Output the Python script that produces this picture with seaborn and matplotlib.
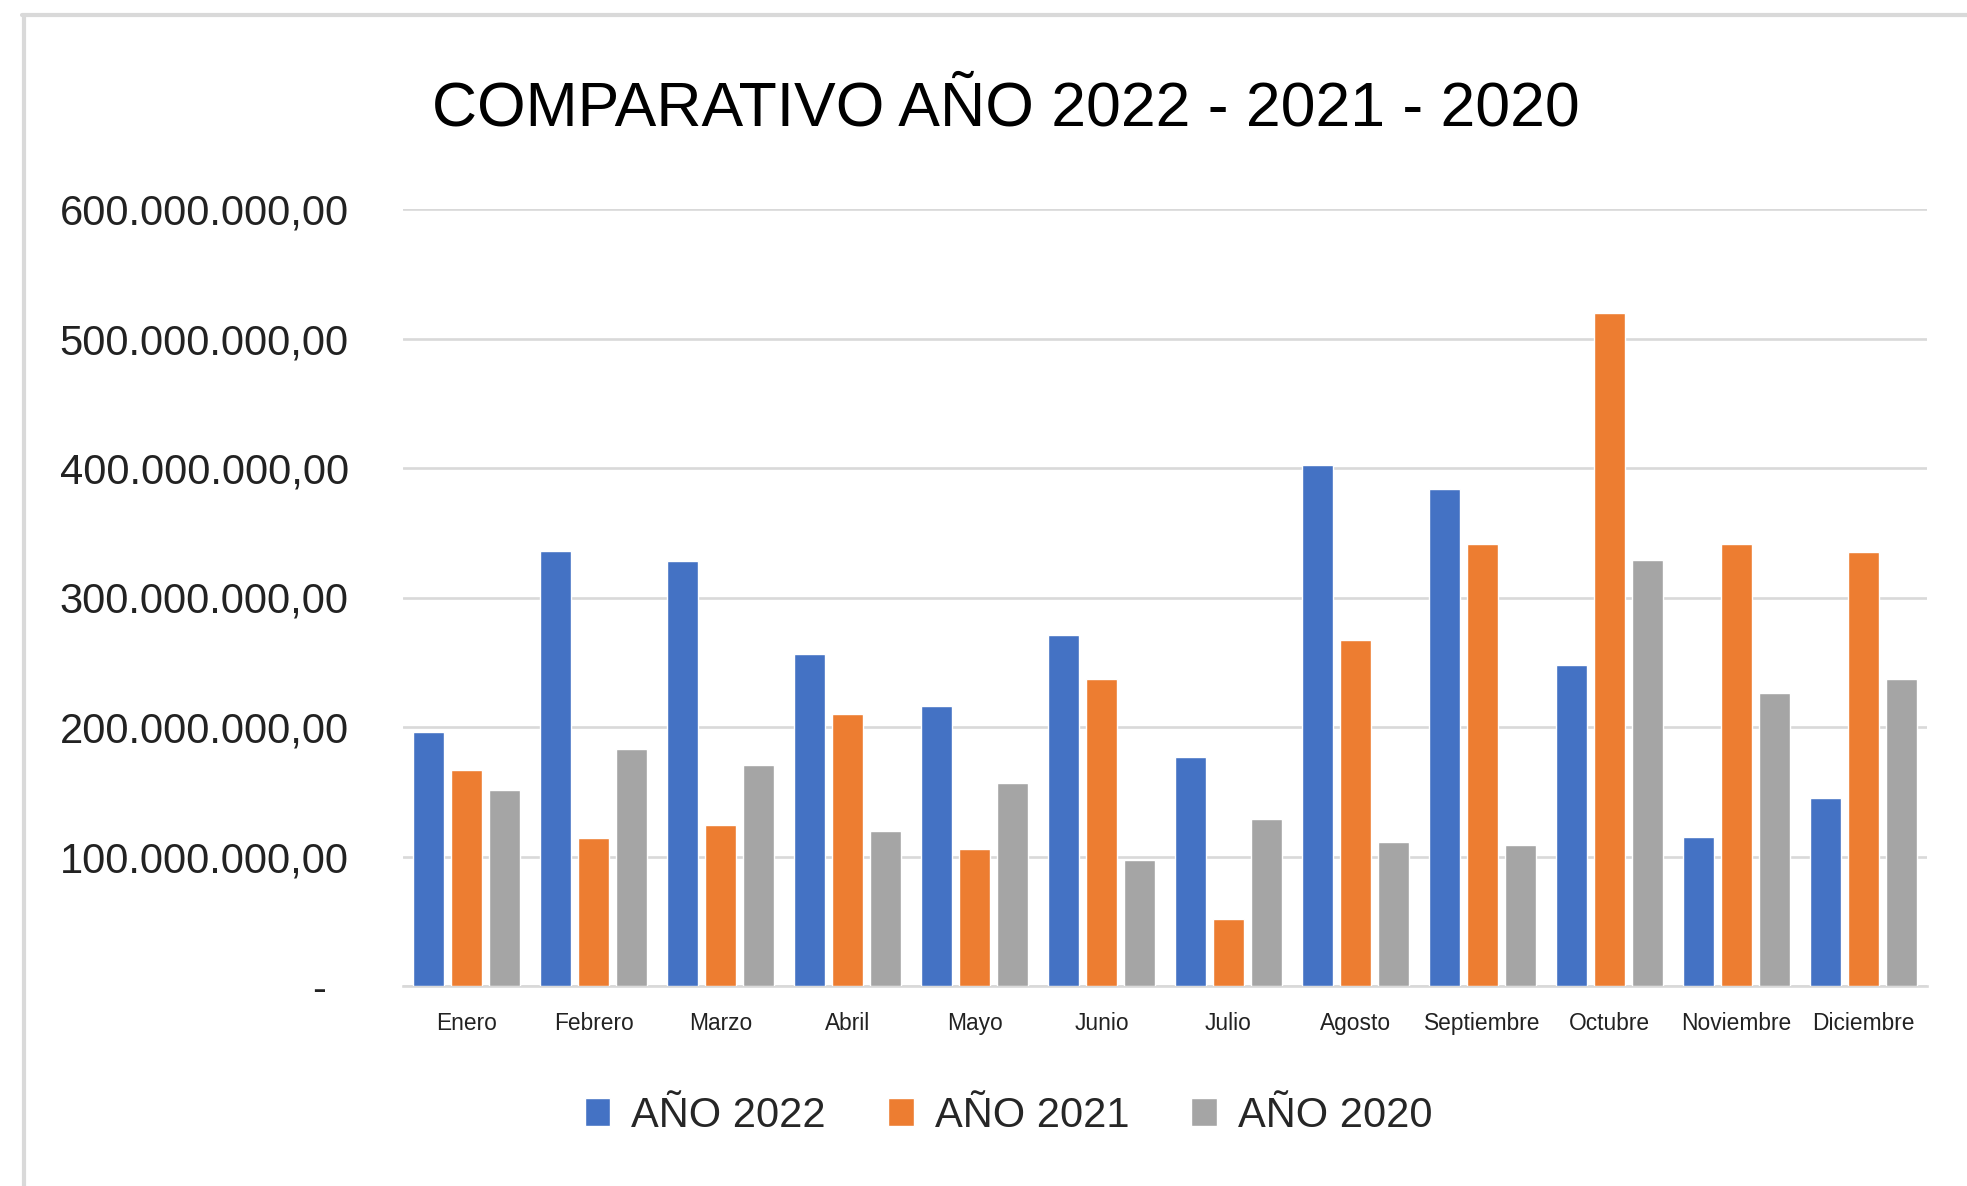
import matplotlib
matplotlib.use('Agg')
import matplotlib.pyplot as plt
import seaborn as sns
import pandas as pd
from matplotlib import font_manager, transforms
from matplotlib.lines import Line2D

meses = ['Enero', 'Febrero', 'Marzo', 'Abril', 'Mayo', 'Junio', 'Julio',
         'Agosto', 'Septiembre', 'Octubre', 'Noviembre', 'Diciembre']
series = ['AÑO 2022', 'AÑO 2021', 'AÑO 2020']
# valores en millones
anio_2022 = [196, 336, 328, 256, 216, 271, 177, 402, 384, 248, 115, 145]
anio_2021 = [167, 114, 124, 210, 106, 237, 52, 267, 341, 520, 341, 335]
anio_2020 = [151, 183, 171, 120, 157, 97, 129, 111, 109, 329, 226, 237]
yticks = [0, 100, 200, 300, 400, 500, 600]
colores = ['#4472C4', '#ED7D31', '#A5A5A5']

sns.set_theme(style='white')
nombres = {f.name for f in font_manager.fontManager.ttflist}
fuente = 'Liberation Sans Narrow' if 'Liberation Sans Narrow' in nombres else 'Liberation Sans'
plt.rcParams['font.family'] = [fuente, 'DejaVu Sans']

df = pd.DataFrame({
    'Mes': meses * 3,
    'Serie': [s for s in series for _ in meses],
    'Valor': [v * 1e6 for v in anio_2022 + anio_2021 + anio_2020],
})

def formato_es(v, pos=None):
    if v == 0:
        return '-'
    txt = f'{v:,.2f}'
    return txt.replace(',', 'X').replace('.', ',').replace('X', '.')

fig = plt.figure(figsize=(19.67, 11.86), dpi=100)
ax = fig.add_axes([403 / 1967, 1 - 986 / 1186, 1524 / 1967, 777 / 1186])

sns.barplot(data=df, x='Mes', y='Valor', hue='Serie', palette=colores,
            saturation=1, width=0.9, gap=0.2, ax=ax, zorder=3)

ax.set_ylim(0, 600e6)
ax.set_xlim(-0.5, 11.5)
ax.set_yticks([t * 1e6 for t in yticks])
ax.yaxis.set_major_formatter(matplotlib.ticker.FuncFormatter(formato_es))
ax.set_xlabel('')
ax.set_ylabel('')
ax.set_axisbelow(True)
ax.grid(axis='y', color='#D9D9D9', lw=1.9)
ax.grid(axis='x', visible=False)
for s in ['top', 'left', 'right']:
    ax.spines[s].set_visible(False)
ax.spines['bottom'].set_color('#D9D9D9')
ax.spines['bottom'].set_linewidth(1.9)
ax.tick_params(axis='y', length=0, pad=39, labelsize=30, labelcolor='#222222')
ax.tick_params(axis='x', length=0, pad=19, labelsize=16.4, labelcolor='#222222')

# el guion del cero va algo más a la izquierda
cero = ax.get_yticklabels()[0]
cero.set_transform(cero.get_transform() + transforms.ScaledTranslation(-0.23, 0, fig.dpi_scale_trans))

fig.text(0.5112, 1 - 125 / 1186, 'COMPARATIVO AÑO 2022 - 2021 - 2020',
         ha='center', va='baseline', fontsize=45, color='black')

h, l = ax.get_legend_handles_labels()
ax.legend(h, l, loc='center', bbox_to_anchor=(0.5127, 1 - 1116 / 1186),
          bbox_transform=fig.transFigure, ncol=3, frameon=False, fontsize=30,
          handlelength=0.62, handleheight=0.65, handletextpad=0.5,
          columnspacing=1.49)

# marco del gráfico
fig.add_artist(Line2D([22 / 1967, 1], [1 - 15 / 1186] * 2, color='#D9D9D9', lw=3,
                      transform=fig.transFigure))
fig.add_artist(Line2D([24 / 1967] * 2, [1 - 15 / 1186, 0], color='#D9D9D9', lw=3,
                      transform=fig.transFigure))

fig.savefig('out.png', dpi=100)
